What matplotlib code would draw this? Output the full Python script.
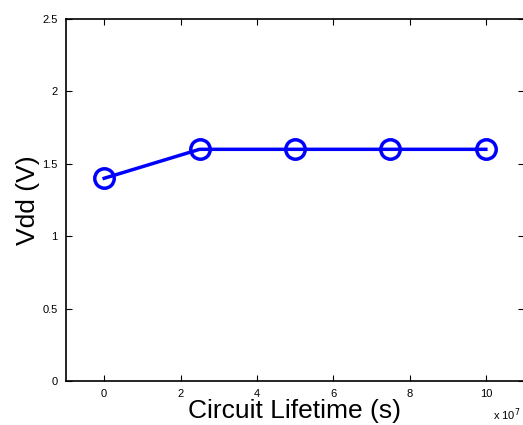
import matplotlib
matplotlib.use('Agg')
import matplotlib.pyplot as plt

plt.rcParams['font.family'] = ['Liberation Sans', 'DejaVu Sans']

# lifetime in units of 1e7 s
lifetime = [0, 2.5, 5, 7.5, 10]
vdd = [1.4, 1.6, 1.6, 1.6, 1.6]

fig = plt.figure(figsize=(5.23, 4.25), dpi=100)
ax = fig.add_axes([66 / 523, 1 - 381 / 425, 458 / 523, 362 / 425])

ax.plot(lifetime, vdd, color='#0000ff', linewidth=2.5, marker='o',
        markersize=14, markerfacecolor='none', markeredgewidth=2.5)

ax.set_xlim(-1, 11)
ax.set_ylim(0, 2.5)
ax.set_xticks([0, 2, 4, 6, 8, 10])
ax.set_yticks([0, 0.5, 1, 1.5, 2, 2.5])
ax.set_yticklabels(['0', '0.5', '1', '1.5', '2', '2.5'])
ax.tick_params(direction='in', top=True, right=True, labelsize=8, length=4, width=0.8)
ax.tick_params(axis='x', pad=6)
ax.tick_params(axis='y', pad=6)
for s in ax.spines.values():
    s.set_linewidth(1.2)

ax.set_xlabel('Circuit Lifetime (s)', fontsize=19, labelpad=0)
ax.set_ylabel('Vdd (V)', fontsize=19)
ax.yaxis.set_label_coords((40 - 66) / 458, 0.5)
fig.text(493 / 523, 1 - 415 / 425, r'x 10$^7$', fontsize=8, ha='left', va='center')

plt.savefig('out.png')
